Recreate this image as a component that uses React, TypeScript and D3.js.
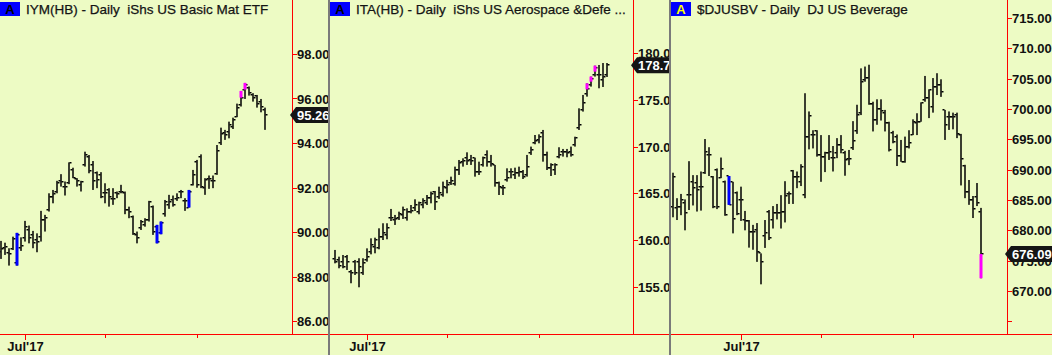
import React from 'react';
import * as d3 from 'd3';

const W = 1052;
const H = 355;
const AXIS_Y = 334;

// trading-day offsets of the month ticks, counted from Jul 3 2017
const monthTickLabels = ["Jul'17", '', ''];
const monthTickOffsets = [0, 20, 43];

// IYM(HB) daily bars
const iymOpen = [89.12, 89.27, 89.05, 89.24, 88.60, 89.27, 89.72, 90.09, 89.87, 89.64, 89.79, 90.54, 90.99, 91.59, 91.82, 92.27, 92.04, 92.19, 92.79, 92.39, 92.12, 92.99, 93.39, 93.01, 92.64, 92.57, 91.74, 91.89, 91.49, 91.74, 91.79, 91.74, 90.99, 90.69, 89.87, 90.17, 90.32, 90.54, 91.14, 90.24, 89.95, 90.80, 91.22, 91.44, 91.49, 91.82, 91.40, 91.10, 92.12, 93.16, 93.39, 91.97, 92.39, 92.27, 92.60, 93.99, 94.44, 94.51, 94.74, 95.19, 95.71, 96.39, 96.46, 96.16, 96.09, 95.86, 95.49];
const iymHigh = [89.60, 89.52, 89.27, 89.79, 89.96, 89.76, 90.50, 90.29, 90.05, 89.94, 90.95, 90.77, 91.74, 91.89, 92.30, 92.60, 92.27, 93.13, 92.89, 92.42, 92.30, 93.61, 93.46, 93.19, 92.72, 92.69, 92.19, 91.97, 91.97, 91.82, 92.12, 91.82, 91.14, 90.74, 90.02, 90.54, 90.62, 91.40, 91.19, 90.32, 90.47, 91.44, 91.67, 91.64, 91.74, 91.89, 91.52, 91.89, 92.79, 93.24, 93.49, 92.42, 92.54, 92.54, 93.91, 94.69, 94.59, 94.96, 95.14, 95.77, 96.34, 96.70, 96.54, 96.24, 96.16, 95.98, 95.59];
const iymLow = [88.79, 88.97, 88.49, 89.19, 88.49, 89.15, 89.57, 89.49, 89.27, 89.09, 89.57, 90.02, 90.92, 91.29, 91.74, 92.04, 91.64, 92.15, 92.42, 92.04, 91.82, 92.94, 92.64, 91.89, 91.97, 91.52, 91.29, 91.14, 91.22, 91.52, 91.74, 90.80, 90.62, 89.87, 89.49, 90.09, 90.24, 90.47, 89.87, 89.49, 89.90, 90.69, 91.04, 91.14, 91.40, 91.52, 90.95, 91.10, 92.09, 91.99, 91.97, 91.67, 91.94, 91.97, 92.57, 93.91, 94.14, 94.21, 94.63, 95.16, 95.64, 95.98, 96.13, 95.86, 95.59, 95.38, 94.59];
const iymClose = [89.24, 89.34, 89.00, 89.69, 89.87, 89.37, 90.24, 89.72, 89.49, 89.57, 90.54, 90.65, 91.59, 91.70, 92.19, 92.24, 92.04, 93.09, 92.42, 92.27, 92.24, 93.46, 92.72, 92.30, 92.34, 91.59, 91.74, 91.59, 91.49, 91.70, 91.79, 90.99, 90.92, 89.90, 89.72, 90.47, 90.54, 91.34, 90.02, 89.57, 90.40, 91.37, 91.37, 91.22, 91.52, 91.79, 91.40, 91.80, 92.57, 92.12, 92.04, 92.34, 92.39, 92.30, 93.64, 94.39, 94.36, 94.81, 95.04, 95.59, 96.01, 96.61, 96.24, 96.01, 95.74, 95.64, 95.26];
// [bar index, top, bottom, signal kind]
const iymMarks: [number, number, number, string][] = [[4, 89.96, 88.49, 'B'], [39, 90.32, 89.49, 'B'], [40, 90.47, 89.90, 'B'], [47, 91.89, 91.10, 'B'], [60, 96.34, 96.04, 'M'], [61, 96.70, 96.40, 'M']];
const iymTicks = [86, 88, 90, 92, 94, 96, 98];

// ITA(HB) daily bars
const itaOpen = [158.0, 157.89, 157.71, 158.24, 156.64, 157.71, 157.71, 156.46, 157.89, 158.78, 159.31, 159.13, 160.38, 160.56, 162.34, 162.16, 162.34, 162.70, 162.34, 163.05, 163.41, 163.05, 163.76, 163.94, 164.48, 165.19, 164.65, 164.83, 165.54, 166.08, 165.97, 167.50, 168.39, 168.75, 168.57, 168.75, 167.33, 168.04, 169.11, 168.39, 168.04, 166.08, 165.54, 166.44, 167.33, 166.97, 167.15, 167.33, 166.97, 169.28, 170.35, 170.71, 171.42, 169.11, 167.68, 167.50, 168.93, 169.46, 169.46, 169.46, 170.17, 171.96, 173.91, 175.59, 176.58, 177.65, 177.65, 177.12, 177.60];
const itaHigh = [158.96, 158.24, 158.42, 158.42, 156.82, 157.89, 158.07, 158.07, 159.13, 160.20, 160.27, 161.27, 161.81, 161.81, 163.34, 162.70, 163.05, 163.59, 163.41, 163.76, 164.37, 164.12, 164.48, 164.83, 165.19, 165.26, 165.72, 166.26, 166.44, 166.79, 167.86, 168.57, 168.75, 169.39, 169.11, 168.82, 168.39, 168.93, 169.60, 169.11, 168.04, 166.26, 165.90, 167.68, 167.68, 167.75, 167.86, 167.50, 169.11, 170.00, 171.24, 171.31, 171.78, 169.46, 168.22, 168.22, 169.93, 169.75, 169.75, 170.00, 171.06, 174.09, 175.52, 176.76, 177.48, 178.65, 178.72, 178.93, 178.93];
const itaLow = [157.53, 157.00, 157.00, 156.82, 155.40, 156.29, 154.97, 156.29, 157.71, 158.49, 158.60, 159.03, 160.02, 160.10, 162.05, 161.63, 162.16, 162.27, 162.09, 162.87, 163.12, 162.77, 163.41, 163.76, 163.94, 163.23, 164.41, 164.65, 165.01, 165.90, 165.83, 166.97, 167.86, 168.04, 168.04, 166.79, 166.97, 167.86, 167.86, 167.86, 165.72, 164.83, 164.83, 166.26, 166.61, 166.54, 166.79, 166.54, 166.79, 169.11, 170.25, 170.35, 168.39, 167.50, 166.86, 166.97, 168.75, 168.93, 168.86, 168.93, 170.00, 171.78, 173.74, 175.34, 176.41, 177.48, 176.23, 176.37, 177.44];
const itaClose = [157.71, 157.28, 157.18, 157.71, 156.46, 156.46, 157.18, 157.53, 158.24, 159.49, 160.02, 160.38, 160.74, 161.27, 162.41, 162.27, 162.77, 163.23, 163.05, 163.12, 163.76, 163.94, 164.19, 164.55, 164.90, 164.12, 165.01, 165.72, 165.90, 166.33, 167.50, 168.22, 168.47, 168.47, 168.47, 167.33, 167.25, 168.75, 168.39, 168.11, 166.08, 165.72, 165.62, 166.68, 167.33, 167.15, 167.33, 166.79, 167.86, 169.64, 170.60, 171.06, 169.11, 167.75, 168.04, 168.04, 169.11, 169.46, 169.28, 169.11, 170.89, 172.31, 174.63, 176.12, 177.23, 178.37, 177.65, 177.48, 178.70];
const itaMarks: [number, number, number, string][] = [[63, 176.76, 176.12, 'M'], [64, 177.48, 176.94, 'M'], [65, 178.65, 178.01, 'M']];
const itaTicks = [155, 160, 165, 170, 175, 180];

// $DJUSBV daily bars
const djOpen = [683.9, 683.6, 683.9, 684.5, 685.8, 687.9, 687.75, 687.2, 689.4, 692.4, 688.85, 689.95, 688.6, 688.0, 688.95, 687.9, 686.1, 685.0, 681.7, 681.6, 679.8, 680.1, 676.2, 679.0, 683.1, 681.7, 682.8, 682.8, 683.1, 686.0, 689.7, 688.85, 688.0, 685.8, 695.45, 695.7, 696.3, 692.4, 692.15, 692.8, 691.9, 692.7, 694.1, 692.7, 691.7, 693.5, 696.3, 699.3, 704.8, 705.1, 700.9, 698.2, 699.95, 699.3, 697.65, 696.0, 695.45, 692.3, 691.3, 693.7, 695.7, 697.65, 697.9, 701.5, 701.8, 700.4, 703.7, 703.95, 699.85, 698.75, 698.6, 699.0, 695.7, 690.6, 686.4, 685.0, 685.5, 683.0];
const djHigh = [689.5, 685.3, 686.0, 685.1, 691.4, 689.1, 689.1, 689.7, 695.05, 693.7, 688.95, 690.2, 692.0, 688.2, 688.95, 688.0, 686.4, 687.2, 683.2, 681.7, 680.9, 681.2, 676.2, 681.7, 683.35, 684.0, 684.35, 685.8, 688.1, 686.4, 689.95, 689.7, 690.9, 702.6, 699.6, 696.5, 696.5, 695.7, 692.95, 695.7, 693.9, 695.2, 695.7, 693.1, 693.25, 698.0, 700.7, 706.7, 707.0, 707.3, 701.2, 701.6, 701.6, 699.85, 697.9, 696.4, 695.8, 694.9, 695.45, 696.5, 698.3, 699.3, 701.1, 705.45, 703.25, 705.1, 705.9, 704.9, 699.85, 699.6, 699.4, 699.4, 695.9, 690.8, 688.3, 685.66, 687.8, 683.7];
const djLow = [682.15, 681.7, 682.5, 680.0, 683.35, 684.1, 683.1, 683.25, 689.3, 688.95, 683.65, 683.5, 688.6, 682.4, 684.2, 679.5, 682.5, 681.55, 680.0, 677.15, 676.8, 674.8, 671.1, 677.1, 678.4, 680.3, 681.8, 680.3, 681.3, 684.35, 684.35, 686.95, 687.3, 685.3, 693.35, 693.5, 692.15, 688.0, 689.6, 691.6, 689.7, 691.9, 692.7, 689.0, 690.75, 693.25, 695.9, 699.0, 704.5, 700.7, 696.3, 697.4, 698.1, 696.3, 693.0, 694.35, 690.6, 691.3, 691.15, 693.5, 695.7, 695.7, 697.9, 701.2, 698.5, 699.4, 702.3, 702.0, 694.9, 696.55, 696.65, 695.2, 687.4, 685.3, 684.2, 682.03, 684.0, 672.1];
const djClose = [688.85, 683.9, 685.0, 682.8, 685.8, 686.95, 686.65, 687.2, 692.95, 692.4, 683.9, 683.9, 690.05, 682.5, 684.2, 681.8, 682.7, 685.0, 681.6, 679.8, 679.8, 676.5, 674.7, 679.6, 678.7, 682.8, 682.8, 683.0, 685.65, 686.0, 688.85, 688.85, 690.5, 695.45, 698.85, 695.7, 692.4, 692.15, 692.8, 692.95, 691.9, 694.1, 693.25, 691.6, 691.7, 694.8, 699.0, 704.5, 705.1, 700.9, 698.2, 699.95, 699.6, 697.65, 693.25, 694.6, 692.3, 691.3, 693.7, 694.45, 697.9, 697.8, 700.95, 701.8, 703.1, 703.7, 703.95, 702.75, 697.4, 698.75, 698.6, 695.9, 691.7, 686.4, 685.0, 683.5, 684.5, 676.09];
const djMarks: [number, number, number, string][] = [[14, 688.95, 684.2, 'B'], [77, 676.09, 672.1, 'M']];
const djTicks = [665, 670, 675, 680, 685, 690, 695, 700, 705, 710, 715];
const djHiddenTicks = [665];

const signalColor: Record<string, string> = { B: '#0000ff', M: '#ff00ff' };

const panels = [
  {
    id: 'iym', title: 'IYM(HB) - Daily  iShs US Basic Mat ETF', badgeText: '#000000',
    left: 0, right: 328, axisX: 292, firstBarX: 1.33, julyIndex: 6,
    open: iymOpen, high: iymHigh, low: iymLow, close: iymClose, marks: iymMarks,
    ticks: iymTicks, hidden: [] as number[], yDomain: [86, 98], yRange: [321, 54],
  },
  {
    id: 'ita', title: 'ITA(HB) - Daily  iShs US Aerospace &Defe ...', badgeText: '#000000',
    left: 330, right: 669, axisX: 633, firstBarX: 335.3, julyIndex: 8,
    open: itaOpen, high: itaHigh, low: itaLow, close: itaClose, marks: itaMarks,
    ticks: itaTicks, hidden: [] as number[], yDomain: [155, 180], yRange: [287, 53],
  },
  {
    id: 'dj', title: '$DJUSBV - Daily  DJ US Beverage', badgeText: '#ffff00',
    left: 671, right: 1052, axisX: 1007, firstBarX: 673.3, julyIndex: 17,
    open: djOpen, high: djHigh, low: djLow, close: djClose, marks: djMarks,
    ticks: djTicks, hidden: djHiddenTicks, yDomain: [670, 715], yRange: [291, 18],
  },
];

const FONT = '"Liberation Sans", Arial, sans-serif';

function textWidth(s: string) {
  // rough bold 13px width
  let w = 0;
  for (const c of s) w += c === '.' ? 3.6 : 7.23;
  return w;
}

function Panel({ p }: { p: typeof panels[number] }) {
  const n = p.close.length;
  const x = d3.scaleLinear().domain([0, n - 1]).range([p.firstBarX, p.firstBarX + 4 * (n - 1)]);
  const y = d3.scaleLinear().domain(p.yDomain).range(p.yRange);
  const fmt = d3.format('.2f');
  const lastClose = p.close[n - 1];
  const cy = y(lastClose);
  const tagText = fmt(lastClose);
  const tagW = textWidth(tagText) + 8;
  const tx = p.axisX - 2;
  const tag = `M${tx},${cy} L${tx + 6},${cy - 8} L${tx + 4 + tagW},${cy - 8} Q${tx + 7 + tagW},${cy - 8} ${tx + 7 + tagW},${cy - 5} L${tx + 7 + tagW},${cy + 5} Q${tx + 7 + tagW},${cy + 8} ${tx + 4 + tagW},${cy + 8} L${tx + 6},${cy + 8} Z`;

  return (
    <g clipPath={`url(#clip-${p.id})`}>
      <clipPath id={`clip-${p.id}`}>
        <rect x={p.left} y={0} width={p.right - p.left} height={H} />
      </clipPath>

      {/* title */}
      <rect x={p.left} y={2} width={20} height={14} fill="#0000ff" />
      <text x={p.left + 10} y={14} textAnchor="middle" fontFamily={FONT} fontWeight="bold" fontSize={13} fill={p.badgeText}>A</text>
      <text x={p.left + 26} y={14} fontFamily={FONT} fontSize={13.5} fill="#141414" stroke="#141414" strokeWidth={0.25} style={{ whiteSpace: 'pre' }}>{p.title}</text>

      {/* bars */}
      {p.close.map((c, i) => {
        const cx = Math.round(x(i));
        const yh = y(p.high[i]);
        const yl = y(p.low[i]);
        return (
          <g key={i} fill="#000">
            <rect x={cx - 0.75} y={yh} width={1.5} height={Math.max(1, yl - yh)} />
            <rect x={cx - 2.5} y={Math.round(y(p.open[i])) - 1} width={2} height={1.5} />
            <rect x={cx + 0.5} y={Math.round(y(c)) - 1} width={2} height={1.5} />
          </g>
        );
      })}
      {p.marks.map(([i, top, bot, kind]) => (
        <rect key={`m${i}`} x={Math.round(x(i)) - 1.5} y={y(top)} width={3} height={y(bot) - y(top)} fill={signalColor[kind]} />
      ))}

      {/* axes */}
      <line x1={p.axisX + 0.5} x2={p.axisX + 0.5} y1={0} y2={AXIS_Y} stroke="#ff0000" />
      <line x1={p.left} x2={p.right} y1={AXIS_Y + 0.5} y2={AXIS_Y + 0.5} stroke="#ff0000" />
      {p.ticks.map((t) => (
        <g key={t}>
          <line x1={p.axisX} x2={p.axisX + 5} y1={Math.round(y(t)) + 0.5} y2={Math.round(y(t)) + 0.5} stroke="#ff0000" />
          {!p.hidden.includes(t) && (
            <text x={p.axisX + 5} y={y(t) + 5} fontFamily={FONT} fontWeight="bold" fontSize={13} fill="#111">{fmt(t)}</text>
          )}
        </g>
      ))}
      {monthTickOffsets.map((o, k) => {
        const mx = Math.round(x(p.julyIndex + o)) + 0.5;
        return (
          <g key={o}>
            <line x1={mx} x2={mx} y1={AXIS_Y} y2={AXIS_Y + (k === 0 ? 6 : 4)} stroke="#ff0000" />
            {monthTickLabels[k] && (
              <text x={mx} y={351} textAnchor="middle" fontFamily={FONT} fontWeight="bold" fontSize={13} fill="#111">{monthTickLabels[k]}</text>
            )}
          </g>
        );
      })}

      {/* last price tag */}
      <path d={tag} fill="#151515" />
      <text x={tx + 7} y={cy + 5} fontFamily={FONT} fontWeight="bold" fontSize={13} fill="#fff">{tagText}</text>
    </g>
  );
}

export default function App() {
  return (
    <svg width={W} height={H} style={{ position: 'absolute', left: 0, top: 0, display: 'block' }}>
      <rect x={0} y={0} width={W} height={H} fill="#edfbc4" />
      {panels.map((p) => <Panel key={p.id} p={p} />)}
      <rect x={328} y={0} width={2} height={H} fill="#7a7a7a" />
      <rect x={669} y={0} width={2} height={H} fill="#7a7a7a" />
    </svg>
  );
}
